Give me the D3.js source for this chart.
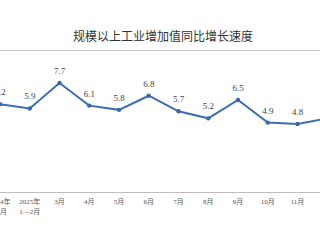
<!DOCTYPE html>
<html>
<head>
<meta charset="utf-8">
<script src="https://cdn.jsdelivr.net/npm/d3@7"></script>
<style>
  body { margin: 0; background: #fff; }
  #chart { width: 320px; height: 240px; overflow: hidden; }
</style>
</head>
<body>
<div id="chart"></div>
<script>
const width = 320
const height = 240

// months shown, first line / second line of each tick label
const months = ["2024-12", "2025-02", "2025-03", "2025-04", "2025-05", "2025-06",
  "2025-07", "2025-08", "2025-09", "2025-10", "2025-11", "2025-12"]
const tickLine1 = ["2024年", "2025年", "3月", "4月", "5月", "6月", "7月", "8月", "9月", "10月", "11月", "12月"]
const tickLine2 = ["12月", "1—2月", "", "", "", "", "", "", "", "", "", ""]
const growth = [6.2, 5.9, 7.7, 6.1, 5.8, 6.8, 5.7, 5.2, 6.5, 4.9, 4.8, 5.2]

const data = months.map((m, i) => ({ month: m, value: growth[i], l1: tickLine1[i], l2: tickLine2[i] }))

const svg = d3.select("#chart")
  .append("svg")
  .attr("width", width)
  .attr("height", height)

const xScale = d3.scalePoint()
  .domain(months)
  .range([0, 29.75 * (months.length - 1)])

const yScale = d3.scaleLinear()
  .domain([4.8, 7.7])
  .range([124, 83])

// title and rule under it
svg.append("text")
  .attr("x", 163)
  .attr("y", 41)
  .attr("text-anchor", "middle")
  .attr("font-family", "'Noto Sans CJK SC', sans-serif")
  .attr("font-size", 12)
  .attr("fill", "#333")
  .text("规模以上工业增加值同比增长速度")

svg.append("line")
  .attr("x1", 0).attr("x2", width)
  .attr("y1", 50.5).attr("y2", 50.5)
  .attr("stroke", "#c4c4c4")

// x axis
const xAxis = svg.append("g")
  .attr("transform", "translate(0,192)")
  .call(d3.axisBottom(xScale).tickSize(0).tickFormat(""))
xAxis.select(".domain").attr("d", `M0,0.5H${width}`).attr("stroke", "#bdbdbd")

const ticks = svg.selectAll("g.tick-label")
  .data(data)
  .join("g")
  .attr("class", "tick-label")
  .attr("transform", d => `translate(${xScale(d.month)},0)`)
  .attr("font-family", "'Liberation Serif', 'Noto Sans CJK SC', serif")
  .attr("font-size", 7)
  .attr("fill", "#555")
  .attr("text-anchor", "middle")

ticks.append("text").attr("y", 203.5).text(d => d.l1)
ticks.append("text").attr("y", 213.5).text(d => d.l2)

const lineFunc = d3.line()
  .x(d => xScale(d.month))
  .y(d => yScale(d.value))

svg.selectAll("path.trend")
  .data([data])
  .join("path")
  .attr("class", "trend")
  .attr("d", d => lineFunc(d))
  .attr("fill", "none")
  .attr("stroke", "#3f6fb0")
  .attr("stroke-width", 2)

svg.selectAll("circle.pt")
  .data(data)
  .join("circle")
  .attr("class", "pt")
  .attr("cx", d => xScale(d.month))
  .attr("cy", d => yScale(d.value))
  .attr("r", 2.2)
  .attr("fill", "#3a68a8")

svg.selectAll("text.val")
  .data(data)
  .join("text")
  .attr("class", "val")
  .attr("x", d => xScale(d.month))
  .attr("y", d => yScale(d.value) - 9)
  .attr("text-anchor", "middle")
  .attr("font-family", "'Liberation Serif', serif")
  .attr("font-size", 9)
  .attr("fill", "#444")
  .text(d => d3.format(".1f")(d.value))
</script>
</body>
</html>
